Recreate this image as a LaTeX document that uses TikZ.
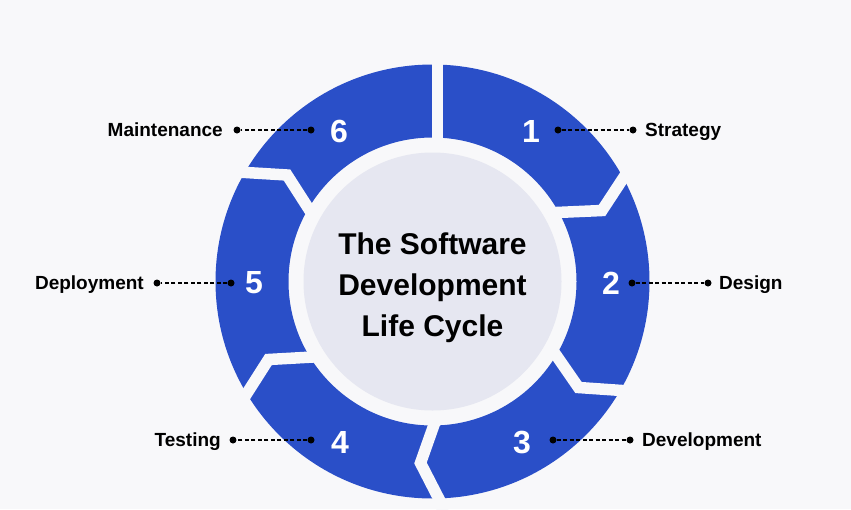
\documentclass[tikz,border=0pt]{standalone}
\usepackage{fontspec}
\setmainfont{Liberation Sans}
\definecolor{bgc}{HTML}{F8F8FA}
\definecolor{ringblue}{HTML}{2A4FC8}
\definecolor{hubc}{HTML}{E6E7F1}
\begin{document}
\begin{tikzpicture}[x=1pt,y=-1pt,
  gapline/.style={draw=bgc, line width=11.5pt, line join=miter, line cap=butt},
  numlabel/.style={text=white, inner sep=0pt, font=\bfseries\fontsize{32}{32}\selectfont},
  steplabel/.style={text=black, inner sep=0pt, font=\bfseries\fontsize{19}{19}\selectfont},
  titleline/.style={text=black, inner sep=0pt, anchor=base, font=\bfseries\fontsize{30}{30}\selectfont},
  leaderdot/.style={circle, fill=black, inner sep=0pt, minimum size=7pt},
  leader/.style={draw=black, line width=1.1pt, dash pattern=on 4pt off 2.5pt}]
  % page and background
  \fill[bgc] (0,0) rectangle (851,509);
  \useasboundingbox (0,0) rectangle (851,509);
  \coordinate (c) at (432.5,281.5);
  % blue ring
  \fill[ringblue, even odd rule] (c) circle[radius=217pt] (c) circle[radius=144pt];
  % cuts between the six phases (chevrons point clockwise)
  \draw[gapline] (437.5,55) -- (437.5,150);
  \draw[gapline] (545,213) -- (602,210.5) -- (624,177) -- (646,143);
  \draw[gapline] (547,342) -- (578.5,387.5) -- (622,390.5) -- (645,392);
  \draw[gapline] (441,405) -- (420.5,463) -- (439.5,500) -- (444,515);
  \draw[gapline] (322,356.5) -- (268.5,359.5) -- (246.5,394) -- (236,410);
  \draw[gapline] (225,171.5) -- (246,172.5) -- (287,175) -- (308.5,208.5) -- (318,223);
  % central hub
  \fill[hubc] (c) circle[radius=129pt];
  \node[titleline] (t1) at (432.5,254) {The Software};
  \node[titleline] (t2) at (432.5,295) {Development};
  \node[titleline] (t3) at (432.5,336) {Life Cycle};
  % phase numbers
  \node[numlabel] (n1) at (531,131) {1};
  \node[numlabel] (n2) at (611,283) {2};
  \node[numlabel] (n3) at (522,442) {3};
  \node[numlabel] (n4) at (340,442) {4};
  \node[numlabel] (n5) at (254,283) {5};
  \node[numlabel] (n6) at (339,131) {6};
  % leader dots
  \node[leaderdot] (d1a) at (558,130) {};
  \node[leaderdot] (d1b) at (633,130) {};
  \node[leaderdot] (d2a) at (632,283) {};
  \node[leaderdot] (d2b) at (708,283) {};
  \node[leaderdot] (d3a) at (553,440) {};
  \node[leaderdot] (d3b) at (630,440) {};
  \node[leaderdot] (d4a) at (311,440) {};
  \node[leaderdot] (d4b) at (233,440) {};
  \node[leaderdot] (d5a) at (231,283) {};
  \node[leaderdot] (d5b) at (157,283) {};
  \node[leaderdot] (d6a) at (311,130) {};
  \node[leaderdot] (d6b) at (237,130) {};
  % dashed leaders
  \draw[leader] (d1a) -- (d1b);
  \draw[leader] (d2a) -- (d2b);
  \draw[leader] (d3a) -- (d3b);
  \draw[leader] (d4a) -- (d4b);
  \draw[leader] (d5a) -- (d5b);
  \draw[leader] (d6a) -- (d6b);
  % phase names
  \node[steplabel, anchor=base west] (l1) at (645,136.5) {Strategy};
  \node[steplabel, anchor=base west] (l2) at (719,289.5) {Design};
  \node[steplabel, anchor=base west] (l3) at (642,446.5) {Development};
  \node[steplabel, anchor=base east] (l4) at (221,446.5) {Testing};
  \node[steplabel, anchor=base east] (l5) at (144,289.5) {Deployment};
  \node[steplabel, anchor=base east] (l6) at (223,136.5) {Maintenance};
\end{tikzpicture}
\end{document}
